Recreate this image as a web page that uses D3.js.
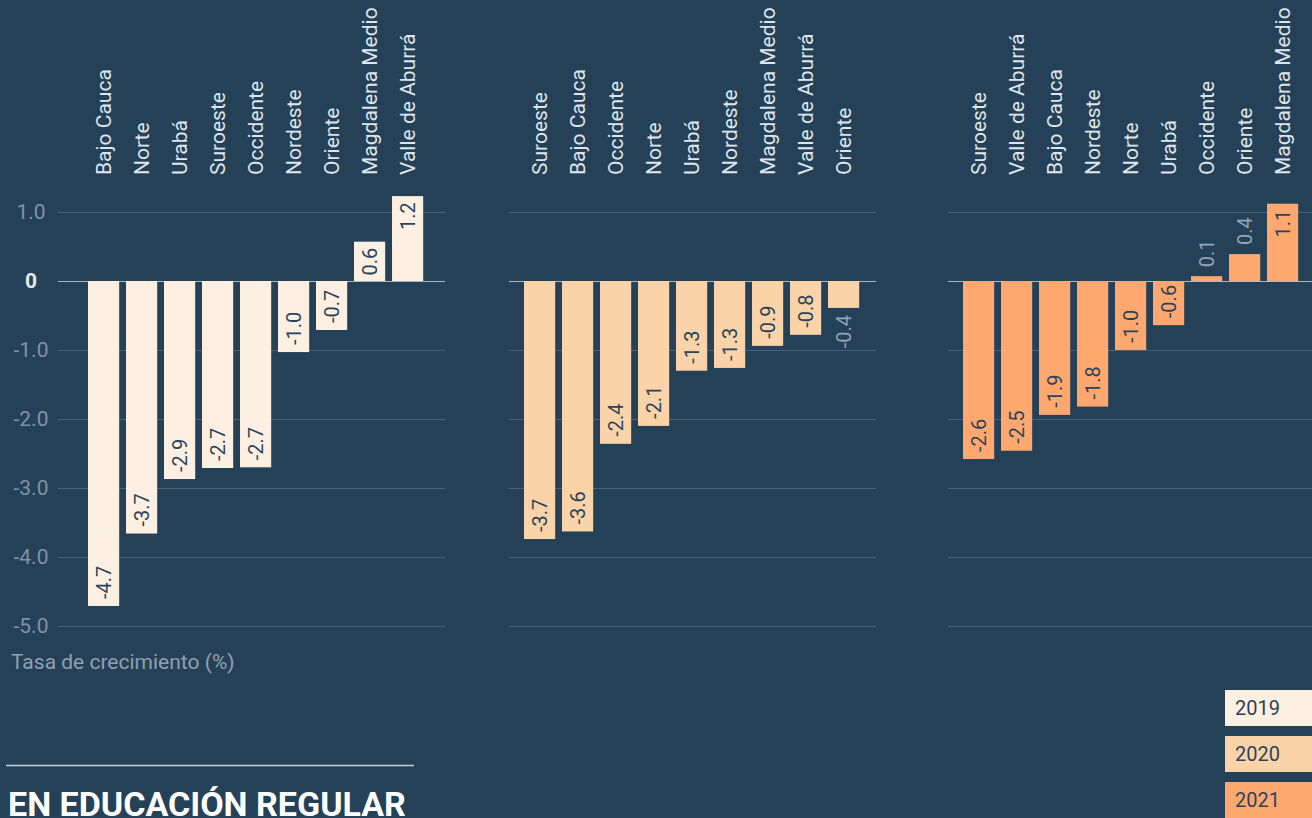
<!DOCTYPE html>
<html>
<head>
<meta charset="utf-8">
<script src="https://cdn.jsdelivr.net/npm/d3@7"></script>
<style>
  body { margin: 0; background: #254157; overflow: hidden; }
  svg { display: block; font-family: Roboto, "Noto Sans", sans-serif; }
</style>
</head>
<body>
<div id="chart"></div>
<script>
// data
const years = ["2019", "2020", "2021"];

const regions2019 = ["Bajo Cauca", "Norte", "Urabá", "Suroeste", "Occidente", "Nordeste", "Oriente", "Magdalena Medio", "Valle de Aburrá"];
const values2019 = [-4.71, -3.66, -2.87, -2.71, -2.70, -1.03, -0.71, 0.57, 1.23];

const regions2020 = ["Suroeste", "Bajo Cauca", "Occidente", "Norte", "Urabá", "Nordeste", "Magdalena Medio", "Valle de Aburrá", "Oriente"];
const values2020 = [-3.74, -3.63, -2.36, -2.10, -1.30, -1.26, -0.94, -0.78, -0.39];

const regions2021 = ["Suroeste", "Valle de Aburrá", "Bajo Cauca", "Nordeste", "Norte", "Urabá", "Occidente", "Oriente", "Magdalena Medio"];
const values2021 = [-2.58, -2.46, -1.94, -1.82, -1.00, -0.64, 0.07, 0.39, 1.12];

const yTicks = [1, 0, -1, -2, -3, -4, -5];
const yTickLabels = ["1.0", "0", "-1.0", "-2.0", "-3.0", "-4.0", "-5.0"];

const colors = ["#fdf0e3", "#fad3a9", "#fea870"];

const width = 1312, height = 818;

let svg = d3.select("#chart")
  .append("svg")
  .attr("width", width)
  .attr("height", height);

let y = d3.scaleLinear()
  .domain([-5, 1])
  .range([626, 212]);

// one entry per panel: grid extent and where the bars start
const panels = [
  {regions: regions2019, values: values2019, gridX0: 58, gridX1: 445, barX0: 84.6},
  {regions: regions2020, values: values2020, gridX0: 509, gridX1: 876, barX0: 520.6},
  {regions: regions2021, values: values2021, gridX0: 948, gridX1: 1312, barX0: 959.6}
];

// y tick labels (left panel only)
svg.append("g")
  .selectAll("text")
  .data(yTicks)
  .enter()
  .append("text")
  .attr("x", 31)
  .attr("y", function(d) { return y(d); })
  .attr("dy", "0.35em")
  .style("text-anchor", "middle")
  .style("font-size", "21px")
  .style("font-weight", function(d) { return d === 0 ? "bold" : "normal"; })
  .attr("fill", function(d) { return d === 0 ? "#e3e8ec" : "#7f93a5"; })
  .text(function(d, i) { return yTickLabels[i]; });

svg.append("text")
  .attr("x", 11)
  .attr("y", 669)
  .style("font-size", "21px")
  .attr("fill", "#8ea0b1")
  .text("Tasa de crecimiento (%)");

panels.forEach(function(p, pi) {
  let g = svg.append("g");

  let x = d3.scaleBand()
    .domain(p.regions)
    .range([p.barX0, p.barX0 + 9 * 38])
    .paddingInner(0.18)
    .paddingOuter(0.09);

  // gridlines
  g.selectAll("line.grid")
    .data(yTicks)
    .enter()
    .append("line")
    .attr("class", "grid")
    .attr("x1", p.gridX0)
    .attr("x2", p.gridX1)
    .attr("y1", function(d) { return Math.round(y(d)) + 0.5; })
    .attr("y2", function(d) { return Math.round(y(d)) + 0.5; })
    .attr("stroke", function(d) { return d === 0 ? "#a7b7c4" : "#486279"; })
    .attr("stroke-width", 1);

  let data = p.regions.map(function(r, i) { return {name: r, value: p.values[i]}; });

  // bars
  g.selectAll("rect")
    .data(data)
    .enter()
    .append("rect")
    .attr("x", function(d) { return x(d.name); })
    .attr("y", function(d) { return Math.min(y(d.value), y(0)); })
    .attr("width", x.bandwidth())
    .attr("height", function(d) { return Math.abs(y(d.value) - y(0)); })
    .attr("fill", colors[pi]);

  // category labels on top
  g.selectAll("text.cat")
    .data(data)
    .enter()
    .append("text")
    .attr("class", "cat")
    .attr("transform", function(d) { return `translate(${x(d.name) + x.bandwidth() / 2}, 175) rotate(-90)`; })
    .attr("dy", "0.35em")
    .style("text-anchor", "start")
    .style("font-size", "21px")
    .attr("fill", "#dfe5ea")
    .text(function(d) { return d.name; });

  // value labels, inside the bar end unless the bar is too short
  let isInside = function(d) { return Math.abs(y(d.value) - y(0)) >= 35; };

  g.selectAll("text.val")
    .data(data)
    .enter()
    .append("text")
    .attr("class", "val")
    .attr("transform", function(d) {
      let yy;
      if (d.value < 0) yy = isInside(d) ? y(d.value) - 7 : y(d.value) + 7;
      else yy = isInside(d) ? y(d.value) + 6 : y(d.value) - 9;
      return `translate(${x(d.name) + x.bandwidth() / 2}, ${yy}) rotate(-90)`;
    })
    .attr("dy", "0.35em")
    .style("text-anchor", function(d) {
      if (d.value < 0) return isInside(d) ? "start" : "end";
      return isInside(d) ? "end" : "start";
    })
    .style("font-size", "20px")
    .attr("fill", function(d) { return isInside(d) ? "#2b4359" : "#93a5b5"; })
    .text(function(d) { return d.value.toFixed(1); });
});

// legend
let legend = svg.append("g")
  .selectAll("g")
  .data(years)
  .enter()
  .append("g")
  .attr("transform", function(d, i) { return `translate(1225, ${690 + i * 46})`; });

legend.append("rect")
  .attr("width", 100)
  .attr("height", 36)
  .attr("fill", function(d, i) { return colors[i]; });

legend.append("text")
  .attr("x", 10)
  .attr("y", 18)
  .attr("dy", "0.35em")
  .style("font-size", "20px")
  .attr("fill", "#2b4359")
  .text(function(d) { return d; });

// section title at the bottom
svg.append("line")
  .attr("x1", 6)
  .attr("x2", 414)
  .attr("y1", 765.5)
  .attr("y2", 765.5)
  .attr("stroke", "#c9d3db")
  .attr("stroke-width", 1.5);

svg.append("text")
  .attr("x", 8)
  .attr("y", 816)
  .style("font-size", "34px")
  .style("font-weight", "bold")
  .attr("fill", "#ffffff")
  .text("EN EDUCACIÓN REGULAR");
</script>
</body>
</html>
